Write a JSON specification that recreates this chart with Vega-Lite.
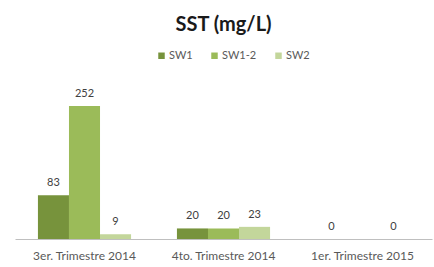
{
  "$schema": "https://vega.github.io/schema/vega-lite/v6.json",
  "width": 417,
  "height": 169,
  "autosize": {"type": "none"},
  "padding": {"left": 15, "top": 70, "right": 2, "bottom": 28},
  "background": "white",
  "title": {"text": "SST (mg/L)", "font": "Lato", "fontSize": 20, "fontWeight": "bold", "color": "#1a1a1a", "anchor": "middle", "offset": 15},
  "data": {
    "values": [
      {"q": "3er. Trimestre 2014", "s": "SW1", "v": 83},
      {"q": "3er. Trimestre 2014", "s": "SW1-2", "v": 252},
      {"q": "3er. Trimestre 2014", "s": "SW2", "v": 9},
      {"q": "4to. Trimestre 2014", "s": "SW1", "v": 20},
      {"q": "4to. Trimestre 2014", "s": "SW1-2", "v": 20},
      {"q": "4to. Trimestre 2014", "s": "SW2", "v": 23},
      {"q": "1er. Trimestre 2015", "s": "SW1", "v": 0},
      {"q": "1er. Trimestre 2015", "s": "SW2", "v": 0}
    ]
  },
  "encoding": {
    "x": {
      "field": "q", "type": "nominal", "sort": null,
      "scale": {"paddingInner": 0.33, "paddingOuter": 0.165},
      "axis": {"title": null, "labelAngle": 0, "ticks": false, "domainColor": "#BFBFBF", "domainWidth": 1, "labelPadding": 11, "labelFont": "Lato", "labelFontSize": 12, "labelColor": "#595959"}
    },
    "xOffset": {"field": "s", "type": "nominal", "scale": {"domain": ["SW1", "SW1-2", "SW2"], "paddingInner": 0, "paddingOuter": 0}},
    "y": {"field": "v", "type": "quantitative", "scale": {"domain": [0, 320]}, "axis": null}
  },
  "layer": [
    {
      "mark": {"type": "bar"},
      "encoding": {
        "color": {
          "field": "s", "type": "nominal",
          "scale": {"domain": ["SW1", "SW1-2", "SW2"], "range": ["#77933C", "#9BBB59", "#C3D69B"]},
          "legend": {"title": null, "orient": "none", "direction": "horizontal", "columns": 3, "legendX": 141, "legendY": -20, "symbolType": "square", "symbolSize": 42, "symbolStrokeWidth": 0, "labelFont": "Lato", "labelFontSize": 11, "labelColor": "#595959", "columnPadding": 16, "labelOffset": 2}
        }
      }
    },
    {
      "mark": {"type": "text", "baseline": "bottom", "dy": -7, "font": "Lato", "fontSize": 11, "color": "#404040"},
      "encoding": {"text": {"field": "v", "type": "quantitative"}}
    }
  ],
  "config": {"view": {"stroke": null}}
}
